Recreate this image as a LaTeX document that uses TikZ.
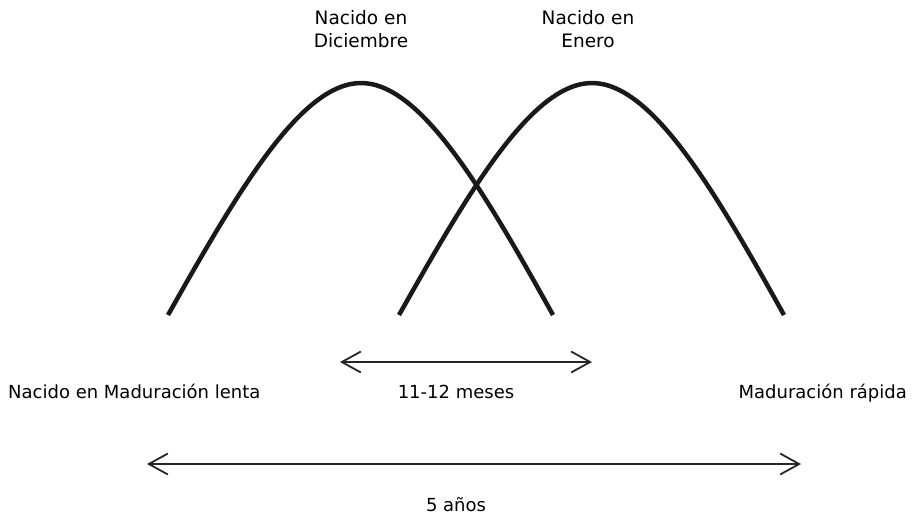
\documentclass[tikz,border=0pt]{standalone}
\usepackage{fontspec}
\setmainfont{DejaVu Sans}
\usetikzlibrary{arrows.meta}
\tikzset{curve/.style={line width=4.5pt,draw=black!90,line cap=butt}}
\tikzset{span/.style={line width=1.8pt,draw=black!85,
                      {Straight Barb[length=19pt,width=21pt]}-{Straight Barb[length=19pt,width=21pt]}}}
\def\bellshift{231}

\begin{document}
\begin{tikzpicture}[x=1pt,y=-1pt]
    \tikzstyle{toplabel}=[inner sep=0pt,align=center,font=\fontsize{18.5}{23}\selectfont]
    \tikzstyle{botlabel}=[inner sep=0pt,font=\fontsize{18}{20}\selectfont]
    \useasboundingbox (0,0) rectangle (912,515);

    % Draw the two bell curves (December, January)
    \foreach \name / \dx in {dic/0,ene/\bellshift}
    {
        \coordinate (\name-l) at (168+\dx,315);
        \coordinate (\name-p) at (361+\dx,83);
        \coordinate (\name-r) at (553+\dx,315);
        \draw[curve] (\name-l) .. controls +(70,-124) and +(-60,0) .. (\name-p)
                     .. controls +(60,0) and +(-69,-124) .. (\name-r);
    }

    % Labels over the peaks
    \node[toplabel,anchor=base] (dic-txt) at (361,47) {Nacido en\\Diciembre};
    \node[toplabel,anchor=base] (ene-txt) at (588,47) {Nacido en\\Enero};

    % Labels under the curves
    \node[botlabel,anchor=base west] (lenta) at (8,398) {Nacido en Maduración lenta};
    \node[botlabel,anchor=base] (meses) at (456,398) {11-12 meses};
    \node[botlabel,anchor=base east] (rapida) at (907,398) {Maduración rápida};
    \node[botlabel,anchor=base] (anos) at (456,511) {5 años};

    % Spans
    \coordinate (mes-a) at (340,362);
    \coordinate (mes-b) at (592,362);
    \coordinate (ano-a) at (147,464);
    \coordinate (ano-b) at (801,464);
    \draw[span] (mes-a) -- (mes-b);
    \draw[span] (ano-a) -- (ano-b);
\end{tikzpicture}
\end{document}
